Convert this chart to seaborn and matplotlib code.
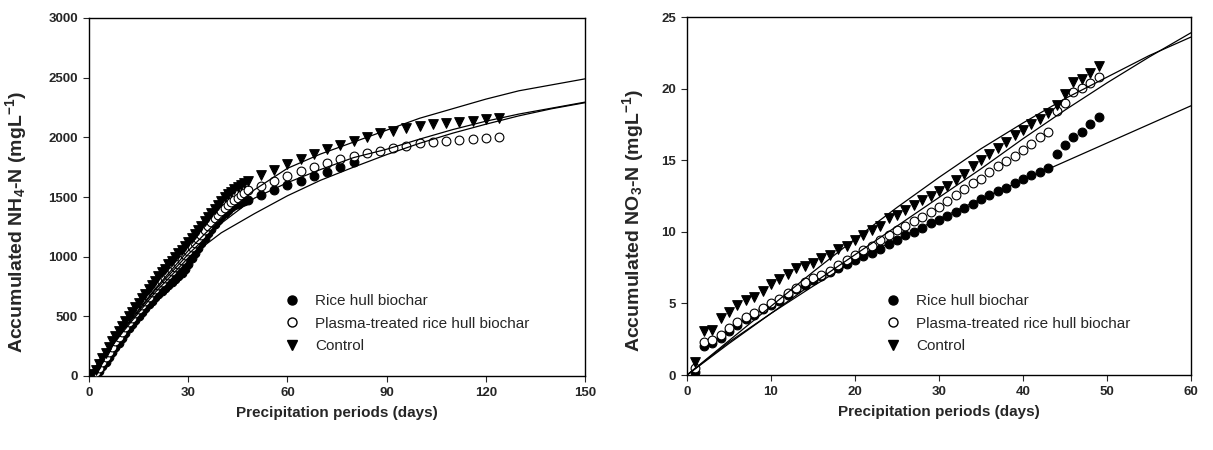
import numpy as np
import pandas as pd
import matplotlib
matplotlib.use("Agg")
import matplotlib.pyplot as plt
import seaborn as sns
from matplotlib.lines import Line2D

sns.set_style("ticks")
plt.rcParams['font.family'] = ['Liberation Sans', 'DejaVu Sans']
plt.rcParams['mathtext.fontset'] = 'custom'
plt.rcParams['mathtext.rm'] = 'Liberation Sans:bold'
plt.rcParams['mathtext.bf'] = 'Liberation Sans:bold'
plt.rcParams['mathtext.it'] = 'Liberation Sans:bold:italic'

# ---------------- Left panel: accumulated NH4-N ----------------
nh4_days_dense = list(range(0, 49))
nh4_days_sparse = list(range(52, 125, 4))

nh4_rice_dense = [0, 5, 15, 40, 80, 120, 160, 200, 240, 280, 320, 360, 400, 435, 470, 505,
                  540, 570, 600, 630, 660, 690, 715, 740, 765, 785, 810, 835, 865, 900, 940,
                  985, 1030, 1075, 1115, 1155, 1195, 1235, 1270, 1305, 1340, 1370, 1395, 1415,
                  1430, 1445, 1455, 1465, 1475]
nh4_rice_sparse = [1517, 1559, 1601, 1637, 1676, 1713, 1755, 1790]

nh4_plasma_dense = [5, 10, 30, 70, 115, 160, 200, 245, 290, 330, 370, 410, 450, 490, 525, 560,
                    595, 630, 665, 700, 730, 760, 790, 820, 850, 880, 910, 940, 975, 1010, 1045,
                    1080, 1115, 1150, 1185, 1220, 1255, 1290, 1320, 1350, 1380, 1405, 1430, 1455,
                    1475, 1495, 1515, 1535, 1555]
nh4_plasma_sparse = [1593, 1635, 1679, 1721, 1755, 1788, 1816, 1847, 1867, 1889, 1908, 1928,
                     1950, 1964, 1972, 1978, 1984, 1995, 2001]

nh4_control_dense = [10, 20, 50, 100, 150, 195, 240, 290, 335, 380, 420, 460, 500, 540, 575, 615,
                     650, 690, 730, 765, 800, 835, 870, 900, 935, 965, 1000, 1030, 1060, 1090, 1120,
                     1155, 1190, 1225, 1260, 1295, 1330, 1365, 1400, 1435, 1470, 1500, 1525, 1545,
                     1565, 1585, 1600, 1615, 1630]
nh4_control_sparse = [1685, 1727, 1777, 1816, 1861, 1903, 1936, 1967, 2006, 2034, 2056, 2076,
                      2096, 2110, 2118, 2132, 2137, 2154, 2160]

# fitted curves read at sampled days
nh4_fit_days = [0, 10, 20, 30, 40, 50, 60, 70, 80, 90, 100, 110, 120, 130, 140, 150]
nh4_fit_control = [0, 380, 730, 1050, 1330, 1560, 1740, 1860, 1960, 2060, 2160, 2240, 2320, 2390, 2440, 2490]
nh4_fit_plasma = [0, 370, 720, 1020, 1280, 1490, 1620, 1730, 1830, 1900, 1985, 2065, 2135, 2195, 2245, 2295]
nh4_fit_rice = [0, 360, 700, 990, 1200, 1360, 1510, 1640, 1750, 1855, 1950, 2035, 2110, 2180, 2240, 2290]

# ---------------- Right panel: accumulated NO3-N ----------------
no3_days = list(range(1, 50))
no3_rice = [0.2, 2.0, 2.2, 2.6, 3.1, 3.5, 3.9, 4.2, 4.6, 4.9, 5.2, 5.6, 6.0, 6.3, 6.6, 6.9, 7.2,
            7.44, 7.72, 8.02, 8.30, 8.55, 8.83, 9.18, 9.46, 9.76, 10.00, 10.30, 10.58, 10.81,
            11.09, 11.39, 11.69, 11.97, 12.27, 12.55, 12.83, 13.09, 13.41, 13.71, 13.95, 14.18,
            14.48, 15.46, 16.04, 16.62, 16.97, 17.50, 18.01]
no3_plasma = [0.5, 2.32, 2.44, 2.79, 3.25, 3.72, 4.02, 4.30, 4.65, 5.00, 5.28, 5.74, 6.11, 6.51,
              6.74, 6.97, 7.28, 7.67, 8.02, 8.37, 8.72, 9.00, 9.41, 9.76, 10.11, 10.39, 10.74,
              11.04, 11.39, 11.74, 12.15, 12.60, 13.02, 13.41, 13.71, 14.18, 14.57, 14.95, 15.27,
              15.74, 16.16, 16.62, 16.97, 18.43, 18.99, 19.76, 20.06, 20.39, 20.80]
no3_control = [0.9, 3.07, 3.14, 3.95, 4.42, 4.88, 5.23, 5.46, 5.86, 6.35, 6.67, 7.04, 7.44, 7.62,
               7.83, 8.14, 8.41, 8.81, 9.00, 9.46, 9.76, 10.16, 10.39, 10.93, 11.16, 11.55, 11.85,
               12.20, 12.48, 12.83, 13.18, 13.60, 14.02, 14.57, 14.99, 15.41, 15.88, 16.27, 16.74,
               17.09, 17.55, 17.90, 18.29, 18.83, 19.60, 20.46, 20.67, 21.10, 21.60]

no3_fit_days = [0, 5, 10, 15, 20, 25, 30, 35, 40, 45, 50, 55, 60]
no3_fit_control = [0, 2.4, 4.8, 7.2, 9.5, 11.7, 13.8, 15.8, 17.6, 19.3, 20.8, 22.3, 23.6]
no3_fit_plasma = [0, 2.2, 4.3, 6.4, 8.4, 10.4, 12.4, 14.4, 16.5, 18.5, 20.4, 22.2, 23.9]
no3_fit_rice = [0, 2.3, 4.3, 6.2, 8.0, 9.5, 10.9, 12.3, 13.6, 14.9, 16.2, 17.5, 18.8]

labels = ["Rice hull biochar", "Plasma-treated rice hull biochar", "Control"]

fig = plt.figure(figsize=(12.13, 4.5), dpi=100)
axL = fig.add_axes([89 / 1213, 1 - 376 / 450, 496 / 1213, 358 / 450])
axR = fig.add_axes([687 / 1213, 1 - 375 / 450, 504 / 1213, 358 / 450])

styles = [dict(marker="o", color="black", edgecolor="black", s=40),
          dict(marker="o", color="white", edgecolor="black", s=40),
          dict(marker="v", color="black", edgecolor="black", s=48)]


def draw_points(ax, xs_list, ys_list):
    for xs, ys, st in zip(xs_list, ys_list, styles):
        sns.scatterplot(x=xs, y=ys, ax=ax, marker=st["marker"], color=st["color"],
                        edgecolor=st["edgecolor"], s=st["s"], linewidth=0.8, zorder=3,
                        legend=False)


def draw_fits(ax, xs, fits):
    for f in fits:
        sns.lineplot(x=xs, y=f, ax=ax, color="black", linewidth=0.9, zorder=4,
                     estimator=None, sort=False, legend=False)


draw_points(axL,
            [nh4_days_dense + nh4_days_sparse[:len(nh4_rice_sparse)],
             nh4_days_dense + nh4_days_sparse,
             nh4_days_dense + nh4_days_sparse],
            [nh4_rice_dense + nh4_rice_sparse,
             nh4_plasma_dense + nh4_plasma_sparse,
             nh4_control_dense + nh4_control_sparse])
draw_fits(axL, nh4_fit_days, [nh4_fit_control, nh4_fit_plasma, nh4_fit_rice])

draw_points(axR, [no3_days] * 3, [no3_rice, no3_plasma, no3_control])
draw_fits(axR, no3_fit_days, [no3_fit_control, no3_fit_plasma, no3_fit_rice])

handles = [Line2D([], [], linestyle="none", marker="o", markerfacecolor="black",
                  markeredgecolor="black", markersize=6.5),
           Line2D([], [], linestyle="none", marker="o", markerfacecolor="white",
                  markeredgecolor="black", markersize=6.5),
           Line2D([], [], linestyle="none", marker="v", markerfacecolor="black",
                  markeredgecolor="black", markersize=7)]


def style_axes(ax, xmax, xticks, ymax, yticks, ylabel, legend_y, ylab_x):
    ax.set_xlim(0, xmax)
    ax.set_ylim(0, ymax)
    ax.set_xticks(xticks)
    ax.set_yticks(yticks)
    for lab in ax.get_xticklabels() + ax.get_yticklabels():
        lab.set_fontweight("bold")
        lab.set_fontsize(9.5)
    ax.tick_params(direction="out", length=4, width=0.8, top=False, right=False, pad=4)
    for sp in ax.spines.values():
        sp.set_visible(True)
        sp.set_linewidth(1.0)
        sp.set_color("black")
    ax.set_xlabel("Precipitation periods (days)", fontsize=11, fontweight="bold", labelpad=5)
    ax.set_ylabel(ylabel, fontsize=14, fontweight="bold")
    ax.yaxis.set_label_coords(ylab_x, 0.43)
    ax.legend(handles, labels, loc="upper left", bbox_to_anchor=(0.378, legend_y), frameon=False,
              fontsize=11, handlelength=1.0, handletextpad=1.05, labelspacing=0.55,
              borderpad=0)


style_axes(axL, 150, [0, 30, 60, 90, 120, 150], 3000, list(range(0, 3001, 500)),
           r"Accumulated NH$_{4}$-N (mgL$^{-1}$)", 0.25, -0.121)
style_axes(axR, 60, list(range(0, 61, 10)), 25, list(range(0, 26, 5)),
           r"Accumulated NO$_{3}$-N (mgL$^{-1}$)", 0.247, -0.081)

fig.savefig("out.png", dpi=100)
